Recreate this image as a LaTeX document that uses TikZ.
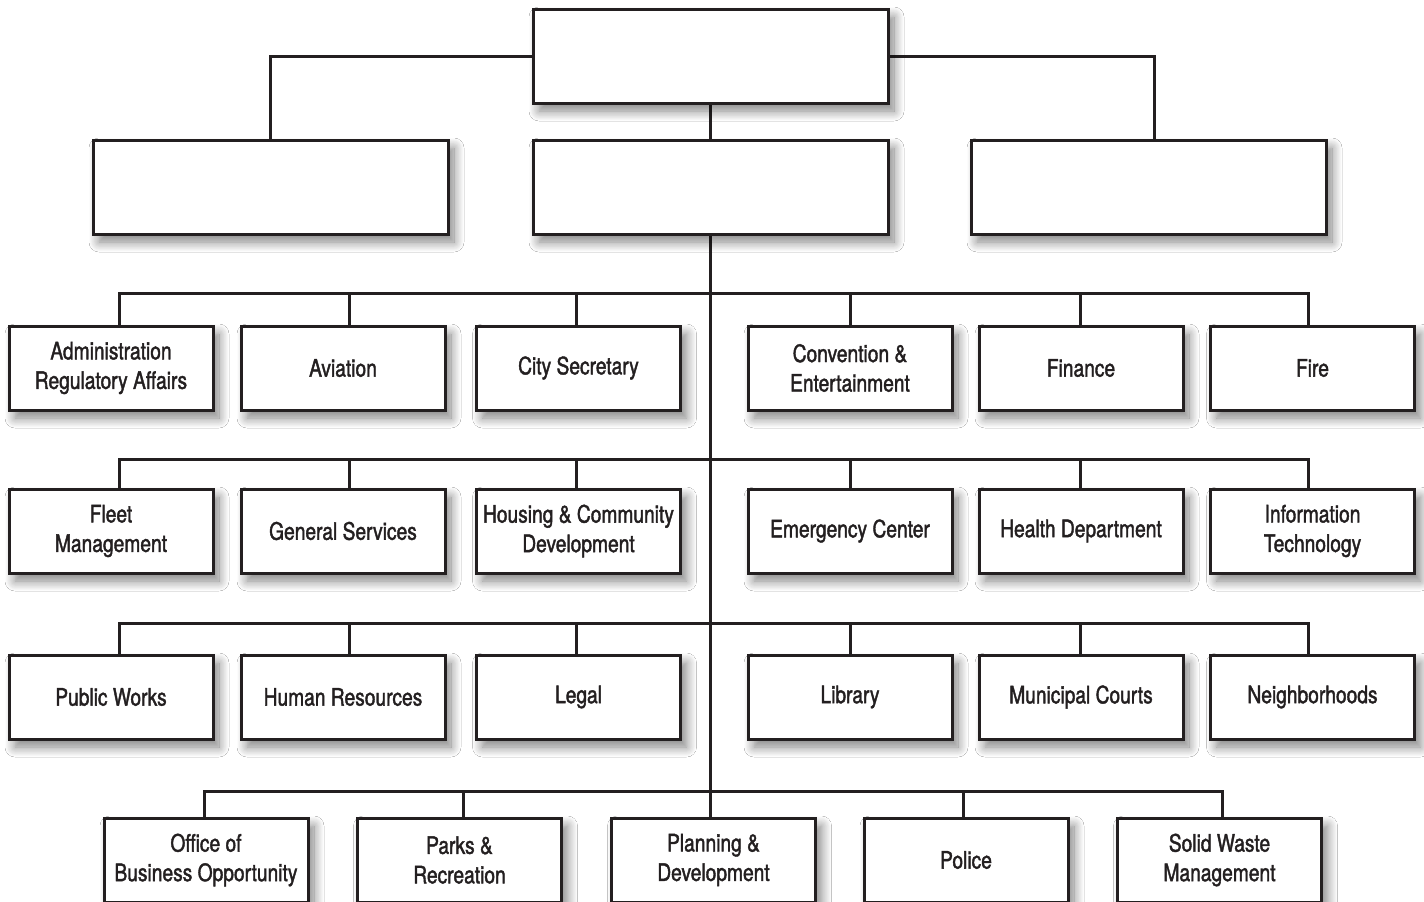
\documentclass[tikz,border=0pt]{standalone}
\usepackage{fontspec}
\setmainfont{TeX Gyre Heros}[FakeStretch=0.8,FakeBold=1.6]
\usetikzlibrary{shadows.blur,backgrounds}
\definecolor{ink}{HTML}{231F20}
\tikzset{
  box/.style={draw=ink, line width=3pt, fill=white, minimum width=204pt, minimum height=84pt,
    inner sep=2pt, align=center, font=\fontsize{24}{29.5}\selectfont, text=ink,
    blur shadow={shadow xshift=6pt, shadow yshift=-8pt, shadow blur radius=10pt, shadow opacity=50, shadow blur steps=12}},
  bigbox/.style={box, minimum width=355pt, minimum height=94pt},
  link/.style={draw=ink, line width=3pt}
}
\begin{document}
\begin{tikzpicture}[x=1pt,y=-1pt]
\useasboundingbox (0,0) rectangle (1424,902);
% top boxes
\node[bigbox] (top) at (710.5,56) {};
\node[bigbox] (left) at (270.5,187) {};
\node[bigbox] (mid) at (710.5,187) {};
\node[bigbox] (right) at (1148.5,187) {};
% row 1
\node[box] (a1) at (111,368) {Administration\\Regulatory Affairs};
\node[box] (a2) at (343,368) {Aviation};
\node[box] (a3) at (578.5,368) {City Secretary};
\node[box] (a4) at (850,368) {Convention \&\\Entertainment};
\node[box] (a5) at (1081,368) {Finance};
\node[box] (a6) at (1312.5,368) {Fire};
% row 2
\node[box] (b1) at (111,531) {Fleet\\Management};
\node[box] (b2) at (343,531) {General Services};
\node[box] (b3) at (578.5,531) {Housing \& Community\\Development};
\node[box] (b4) at (850,531) {Emergency Center};
\node[box] (b5) at (1081,531) {Health Department};
\node[box] (b6) at (1312.5,531) {Information\\Technology};
% row 3
\node[box] (c1) at (111,697) {Public Works};
\node[box] (c2) at (343,697) {Human Resources};
\node[box] (c3) at (578.5,697) {Legal};
\node[box] (c4) at (850,697) {Library};
\node[box] (c5) at (1081,697) {Municipal Courts};
\node[box] (c6) at (1312.5,697) {Neighborhoods};
% row 4
\node[box] (d1) at (206,860) {Office of\\Business Opportunity};
\node[box] (d2) at (459.5,860) {Parks \&\\Recreation};
\node[box] (d3) at (713.5,860) {Planning \&\\Development};
\node[box] (d4) at (966,860) {Police};
\node[box] (d5) at (1219.5,860) {Solid Waste\\Management};
% bus coordinates
\coordinate (bus1) at (713,293);
\coordinate (bus2) at (713,459);
\coordinate (bus3) at (713,623);
\coordinate (bus4) at (713,791);
\begin{scope}[on background layer]
\fill[white] (0,0) rectangle (1424,902);
\draw[link] (top.west) -| (left.north);
\draw[link] (top.east) -| ([xshift=6pt]right.north);
\draw[link] (top.south) -- (mid.north);
\draw[link] (mid.south) -- (d3.north -| mid.south);
% row buses
\foreach \b/\r in {bus1/a, bus2/b, bus3/c}{
  \draw[link] ([xshift=8pt]\r1.north) |- (\b) -| ([xshift=-4.5pt]\r6.north);
  \draw[link] ([xshift=6pt]\r2.north) |- (\b);
  \draw[link] ([xshift=-2.5pt]\r3.north) |- (\b);
  \draw[link] (\r4.north) |- (\b);
  \draw[link] ([xshift=-1pt]\r5.north) |- (\b);
}
\draw[link] ([xshift=-2pt]d1.north) |- (bus4) -| ([xshift=2.5pt]d5.north);
\draw[link] ([xshift=3.5pt]d2.north) |- (bus4);
\draw[link] ([xshift=-3pt]d4.north) |- (bus4);
\end{scope}
\end{tikzpicture}
\end{document}
